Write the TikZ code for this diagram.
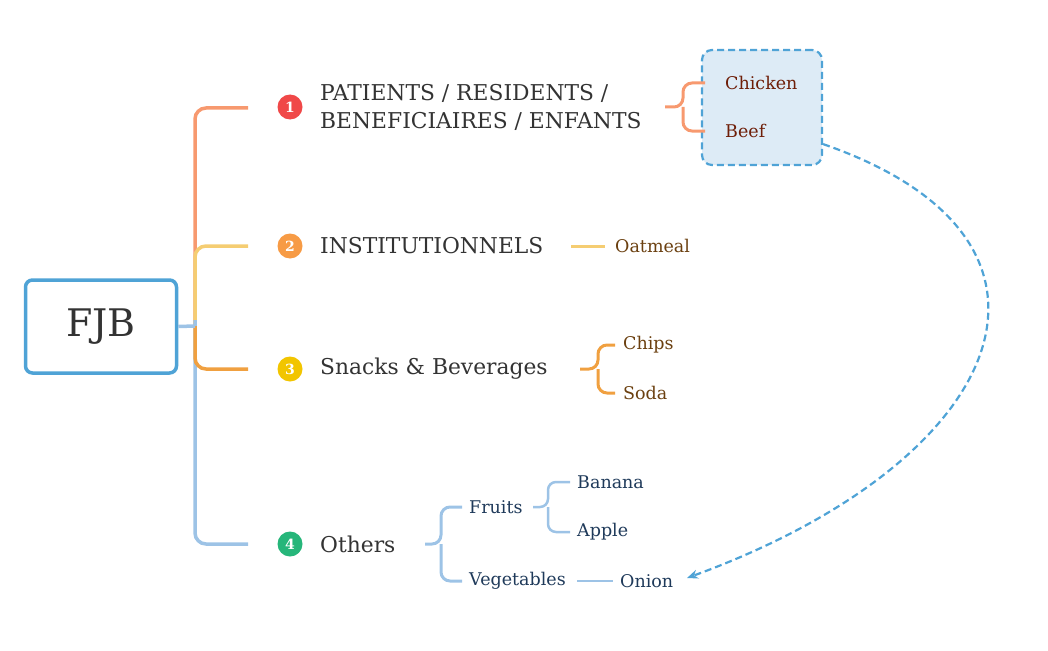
\documentclass[tikz,border=0pt]{standalone}
\usepackage{fontspec}
\setmainfont{DejaVu Serif}
\usetikzlibrary{arrows.meta}
\definecolor{cblue}{HTML}{4FA3D6}
\definecolor{cfill}{HTML}{DDEBF6}
\definecolor{cor1}{HTML}{F7996F}
\definecolor{cyel}{HTML}{F5CD72}
\definecolor{cor3}{HTML}{F0A040}
\definecolor{clb}{HTML}{9DC3E6}
\definecolor{mred}{HTML}{F04848}
\definecolor{mora}{HTML}{F79B45}
\definecolor{myel}{HTML}{F2C500}
\definecolor{mgre}{HTML}{26B67A}
\definecolor{tmain}{HTML}{333333}
\definecolor{tred}{HTML}{6E1E08}
\definecolor{tbro}{HTML}{6B4010}
\definecolor{tnav}{HTML}{1F3A5A}
\begin{document}
\begin{tikzpicture}[x=1pt,y=-1pt,
 br/.style={line width=3.5pt,rounded corners=11pt},
 sbr/.style={line width=3pt,rounded corners=9pt},
 mk/.style={circle,minimum size=25pt,inner sep=0pt,text=white,font=\bfseries\fontsize{14}{14}\selectfont},
 main/.style={anchor=west,inner sep=0pt,text=tmain,font=\fontsize{21.8}{28}\selectfont,align=left},
 sub/.style={anchor=west,inner sep=0pt,font=\fontsize{17.5}{20}\selectfont}]
\useasboundingbox (0,0) rectangle (1048,650);
\node[draw=cblue,line width=3.5pt,rounded corners=7pt,minimum width=151pt,minimum height=93pt,font=\fontsize{38}{38}\selectfont,text=tmain] (fjb) at (101,326.5) {FJB};
\coordinate (j) at (195,326);
% trunk and branches
\draw[br,cor1] (248,108) -- (195,108) -- (195,326);
\draw[br,cyel] (248,246) -- (195,246) -- (195,326);
\draw[br,clb] (195,320) -- (195,544) -- (248,544);
\draw[br,cor3] (195,326) -- (195,369) -- (248,369);
\draw[line width=3.5pt,clb] (fjb.east) -- (j);
% markers
\node[mk,fill=mred] (m1) at (290,107) {1};
\node[mk,fill=mora] (m2) at (290,246) {2};
\node[mk,fill=myel] (m3) at (290,369) {3};
\node[mk,fill=mgre] (m4) at (290,544) {4};
\node[main] (t1) at (320,107) {PATIENTS / RESIDENTS /\\BENEFICIAIRES / ENFANTS};
\node[main] (t2) at (320,246) {INSTITUTIONNELS};
\node[main] (t3) at (320,369) {Snacks \& Beverages};
\node[main] (t4) at (320,544) {Others};
% group box
\node[draw=cblue,fill=cfill,line width=2.2pt,rounded corners=10pt,minimum width=120pt,minimum height=115pt,dash pattern=on 7pt off 4pt] (box) at (762,107.5) {};
% branch 1 subs
\draw[sbr,cor1] (665,107) -- (683,107) -- (683,83) -- (705,83);
\draw[sbr,cor1] (683,107) -- (683,131) -- (705,131);
\node[sub,text=tred] (ch) at (725,83) {Chicken};
\node[sub,text=tred] (be) at (725,131) {Beef};
% oatmeal
\draw[line width=3pt,cyel] (571,246) -- (605,246);
\node[sub,text=tbro] (oa) at (615,246) {Oatmeal};
% snacks
\draw[sbr,cor3] (580,369) -- (598,369) -- (598,345) -- (615,345);
\draw[sbr,cor3] (598,369) -- (598,393) -- (615,393);
\node[sub,text=tbro] (chips) at (623,345) {Chips};
\node[sub,text=tbro] (soda) at (623,393) {Soda};
% others
\draw[sbr,clb] (425,544) -- (441,544) -- (441,507) -- (462,507);
\draw[sbr,clb] (441,544) -- (441,581) -- (462,581);
\node[sub,text=tnav] (fr) at (469,507) {Fruits};
\node[sub,text=tnav] (veg) at (469,581) {Vegetables};
\draw[line width=2.5pt,clb,rounded corners=8pt] (533,507) -- (548,507) -- (548,482) -- (570,482);
\draw[line width=2.5pt,clb,rounded corners=8pt] (548,507) -- (548,532) -- (570,532);
\node[sub,text=tnav] (ban) at (577,482) {Banana};
\node[sub,text=tnav] (app) at (577,532) {Apple};
\draw[line width=2.5pt,clb] (577,581) -- (613,581);
\node[sub,text=tnav] (on) at (620,581) {Onion};
% relationship
\coordinate (arr) at (687,578);
\draw[cblue,line width=2.2pt,dash pattern=on 7pt off 4pt,-{Stealth[length=11pt,width=9pt]}]
  (box.south east) ++(0,-22) .. controls (1100,240) and (1010,460) .. (arr);
\end{tikzpicture}
\end{document}
